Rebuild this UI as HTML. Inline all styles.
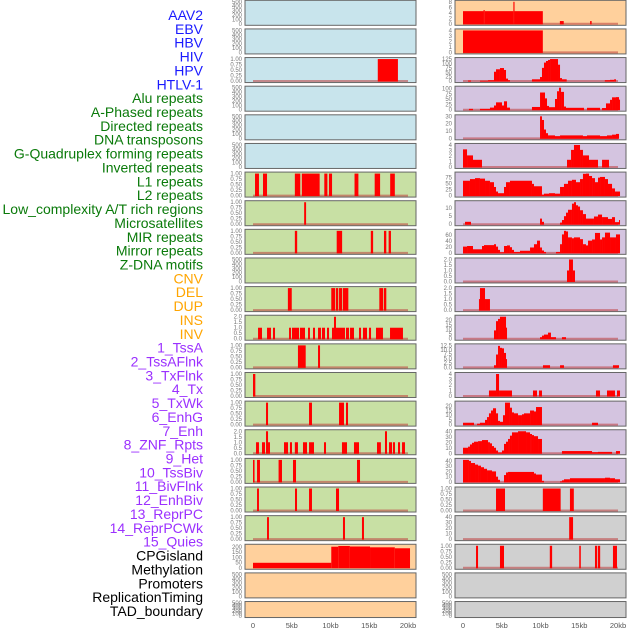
<!DOCTYPE html>
<html><head><meta charset="utf-8"><style>
html,body{margin:0;padding:0;background:#fff;}
svg{display:block;font-family:"Liberation Sans",sans-serif;}
</style></head><body>
<svg id="chart" width="630" height="630" viewBox="0 0 630 630" xmlns="http://www.w3.org/2000/svg">
<g id="labels"></g>
<g id="panels"></g>
<g id="xaxes"></g>
</svg>
<script>
const trackLabels = ["AAV2","EBV","HBV","HIV","HPV","HTLV-1","Alu repeats","A-Phased repeats","Directed repeats","DNA transposons","G-Quadruplex forming repeats","Inverted repeats","L1 repeats","L2 repeats","Low_complexity A/T rich regions","Microsatellites","MIR repeats","Mirror repeats","Z-DNA motifs","CNV","DEL","DUP","INS","INV","1_TssA","2_TssAFlnk","3_TxFlnk","4_Tx","5_TxWk","6_EnhG","7_Enh","8_ZNF_Rpts","9_Het","10_TssBiv","11_BivFlnk","12_EnhBiv","13_ReprPC","14_ReprPCWk","15_Quies","CPGisland","Methylation","Promoters","ReplicationTiming","TAD_boundary"];
const labelGroups = [6,13,5,15,5];
const groupColors = ["#1a1aff","#0a7a0a","#ffa500","#9b30ff","#000000"];
const xTickValues = [0,5,10,15,20];
const xTickLabels = ["0","5kb","10kb","15kb","20kb"];

const T01 = ["0.00","0.25","0.50","0.75","1.00"];
const T02 = ["0.0","0.5","1.0","1.5","2.0"];
const TE = ["0","100","200","300","400","500"];
const T04 = ["0","1","2","3","4"];
const T040 = ["0","10","20","30","40"];
const T020 = ["0","5","10","15","20"];

// left column: [ticks, ymax, background, steps ([startKb, value] until next start)]
const leftTicks = [TE,TE,T01,TE,TE,TE,T01,T01,T01,TE,T01,T02,T01,T01,T01,T02,T01,T01,T01,["0","50","100","150","200"],TE,TE];
const leftMax = [500,500,1,500,500,500,1,1,1,500,1,2,1,1,1,2,1,1,1,212,500,500];
const leftData = [
 null,null,
 [[16.1,1],[18.7,0]],
 null,null,null,
 [[0.26,1],[0.77,0],[1.29,1],[1.81,0],[5.4,1],[6.1,0],[6.3,1],[8.6,0],[9.2,1],[9.6,0],[9.8,1],[10.2,0],[13.1,1],[13.6,0],[15.7,1],[16.4,0],[17.7,1],[18.3,0]],
 [[6.6,1],[6.85,0]],
 [[5.4,1],[5.7,0],[10.8,1],[11.5,0],[15.2,1],[15.5,0],[16.9,1],[17.2,0],[17.5,1],[17.8,0]],
 null,
 [[4.5,1],[5.0,0],[10.1,1],[10.6,0],[10.7,1],[11.0,0],[11.1,1],[11.5,0],[11.6,1],[12.3,0],[16.3,1],[16.8,0],[16.9,1],[17.2,0]],
 [[0.65,1],[1.16,0],[1.81,1],[2.32,0],[2.58,1],[2.84,0],[4.65,1],[4.9,0],[5.03,1],[5.94,0],[6.06,1],[6.71,0],[7.1,1],[7.35,0],[7.74,1],[8.0,0],[8.39,1],[8.77,0],[8.9,1],[9.29,0],[9.55,1],[9.81,0],[10.19,1],[10.45,2],[10.71,1],[11.87,0],[12.0,1],[12.39,0],[12.52,1],[13.03,0],[13.68,1],[13.94,0],[14.19,1],[14.71,0],[14.97,1],[15.23,0],[15.87,1],[16.77,0],[17.68,1],[19.35,0]],
 [[5.8,1],[6.8,0],[8.39,1],[8.65,0]],
 [[0,1],[0.3,0]],
 [[1.68,1],[1.94,0],[7.23,1],[7.61,0],[11.1,1],[11.74,0],[12.0,1],[12.26,0]],
 [[0.39,1],[0.77,0],[1.16,1],[1.55,0],[1.68,2],[1.94,1],[2.19,0],[4.0,1],[4.52,0],[4.77,1],[5.03,0],[5.4,1],[5.8,0],[6.45,1],[6.97,0],[7.23,1],[7.87,0],[9.16,1],[9.42,0],[11.48,1],[12.13,0],[13.03,1],[13.68,0],[16.0,1],[16.5,0],[17.03,2],[17.29,0],[17.55,1],[17.94,0],[18.06,1],[18.32,0],[18.71,1],[18.97,0],[19.23,1],[19.61,0]],
 [[0,1],[0.2,0],[0.52,1],[0.9,0],[3.3,1],[3.74,0],[5.16,1],[5.55,0],[13.42,1],[13.81,0]],
 [[0.52,1],[0.77,0],[5.42,1],[5.68,0],[7.23,1],[7.61,0],[10.71,1],[11.1,0]],
 [[1.81,1],[2.06,0],[11.61,1],[11.87,0],[14.06,1],[14.32,0]],
 [[0,48],[10.1,203],[11.0,210],[12.5,205],[15.1,197],[18.3,188],[20.26,0]],
 null,null
];
const rightTicks = [["0","2","4","6","8"],T04,["0","25","50","75","100","125"],["0","25","50","75","100"],["0","10","20","30"],T04,["0","25","50","75"],["0","5","10"],["0","20","40","60"],T02,T02,T020,["0.0","2.5","5.0","7.5","10.0","12.5"],T04,T020,T040,T040,T01,T040,T01,TE,TE];
const rightMax = [8,4,125,105,30,4,92,13.7,74,2,2,23.8,12.5,4,23.4,40,42,1,40,1,500,500];
const rightData = [
 [[0,4.6],[2.65,5],[2.8,4.6],[6.5,8],[6.65,4.6],[10.3,0],[12.5,1],[13.0,0],[16.4,1],[16.6,0]],
 [[0,4],[10.3,0]],
 [[0.65,3],[1.03,0],[2.19,2],[3.23,5],[4.0,53],[4.26,67],[4.77,74],[5.29,63],[5.55,14],[5.81,5],[6.06,0],[8.9,10],[9.94,23],[10.19,75],[10.45,105],[10.71,114],[10.97,120],[11.23,125],[12.26,93],[12.52,17],[12.77,10],[13.38,0],[18.3,5],[18.97,7],[19.5,10],[19.74,0]],
 [[0.77,4],[1.29,0],[2.19,4],[3.48,10],[4.0,20],[4.26,35],[5.03,20],[5.29,40],[5.68,10],[6.06,0],[8.9,13],[9.94,82],[10.58,54],[10.84,18],[11.1,12],[11.87,51],[12.13,88],[12.39,105],[12.65,85],[13.03,15],[13.29,9],[15.61,0],[16.0,9],[17.68,0],[17.94,8],[18.45,30],[18.97,47],[19.23,59],[19.74,60],[20.13,48],[20.26,0]],
 [[9.94,30],[10.19,25],[10.45,12],[10.71,7],[10.97,4],[11.87,3],[12.52,4],[15.48,3],[16.0,4],[17.68,3],[18.58,4],[19.23,5],[19.74,6],[20.13,0]],
 [[0,3.2],[0.52,2.1],[1.29,1.3],[2.45,0],[13.42,1.3],[13.94,3.1],[14.32,4],[15.1,3.1],[15.48,2.1],[16.26,1.3],[17.42,0],[17.94,1.3],[18.84,0]],
 [[0,62],[0.9,69],[1.55,73],[2.19,71],[2.84,62],[3.48,56],[4.0,36],[4.26,17],[4.52,10],[5.29,36],[5.55,56],[6.06,62],[8.9,49],[9.16,39],[10.19,4],[10.45,8],[11.1,10],[11.87,8],[12.52,36],[13.03,49],[13.55,62],[14.06,66],[14.58,56],[15.1,69],[15.48,91],[15.87,92],[16.26,82],[16.65,73],[17.03,56],[17.42,75],[17.68,78],[18.32,69],[18.71,49],[19.23,30],[19.61,17],[20.26,0]],
 [[0.26,1.5],[1.03,0],[9.94,3.5],[10.19,1.5],[10.45,0],[12.52,1],[12.77,2.6],[13.03,5],[13.29,7.2],[13.55,9],[14.06,12.8],[14.32,13.7],[14.58,11.8],[14.84,11],[15.1,8.7],[15.48,6.3],[15.87,3.5],[16.9,4.8],[17.42,6],[17.94,4.4],[18.71,3.3],[19.23,4.4],[19.61,1.3],[20.13,2.6],[20.26,0]],
 [[0,21],[0.52,23],[1.29,12],[2.45,23],[2.71,26],[4.0,29],[4.26,21],[4.52,10],[4.77,2],[5.29,23],[5.68,25],[6.06,19],[6.32,10],[6.58,3],[7.35,7],[8.65,18],[9.16,29],[9.55,41],[9.94,18],[10.19,8],[10.45,3],[10.71,0],[12.0,3],[12.52,29],[12.77,62],[13.03,74],[13.29,72],[13.55,52],[14.06,49],[14.32,52],[15.1,46],[15.48,29],[15.87,25],[16.13,41],[16.65,45],[17.03,67],[17.68,45],[17.94,52],[18.32,68],[18.97,52],[19.74,62],[20.26,0]],
 [[13.42,1],[13.68,2],[14.19,1],[14.45,0]],
 [[2.06,1],[2.19,2],[2.84,1],[3.48,0]],
 [[4.0,9],[4.26,19],[4.52,21.4],[4.77,23.8],[5.55,12],[5.68,0],[9.94,1.7],[10.19,3.4],[10.45,4.5],[10.97,6.6],[11.35,1.7],[12.0,0],[12.77,1.7],[13.29,0]],
 [[4.0,1.2],[4.26,7.3],[4.52,12.2],[4.77,11.1],[5.03,10.8],[5.29,8.2],[5.55,4.7],[5.68,0],[10.32,1.2],[11.23,0],[12.52,1.2],[13.03,0],[19.35,1.2],[20.13,0]],
 [[3.35,1],[4.26,4],[4.65,1],[6.32,0],[9.03,1],[9.55,0],[9.81,1],[10.19,0],[17.16,1],[17.68,0],[18.58,1],[19.61,0],[19.87,1],[20.26,0]],
 [[0,2],[1.42,0],[1.81,1],[2.19,2],[2.84,5],[3.1,8],[3.35,12],[3.61,15],[3.87,17.4],[4.26,12],[4.52,4],[4.77,3],[5.16,10],[5.42,23.4],[6.06,18],[6.32,13],[6.58,12],[7.1,10],[7.61,11],[7.87,12],[8.65,15],[9.16,14],[9.42,18.7],[10.19,0],[16.65,2],[17.42,0]],
 [[0,10],[0.65,12],[0.9,16],[1.16,19],[1.42,21],[1.94,22],[2.45,24],[3.23,20],[3.48,18],[3.74,13],[4.0,10],[4.26,5],[4.52,1.5],[5.03,5],[5.29,17],[5.55,21],[5.81,26],[6.06,32],[6.32,38],[7.1,40],[8.13,38],[8.65,35],[8.9,33],[9.16,31],[9.68,26],[10.19,0],[12.77,4],[16.65,2],[17.42,2.5],[19.23,0],[19.74,4],[20.26,0]],
 [[0,42],[0.77,40],[1.03,36],[1.55,33],[1.94,31],[2.32,28],[2.71,25],[3.1,22],[3.74,20],[4.26,10],[4.52,4],[4.77,0],[5.29,13],[5.55,18],[5.81,19],[9.16,16],[9.42,14],[10.19,2],[10.45,0],[12.52,1],[12.77,3],[13.03,5],[13.8,7],[18.32,8],[18.97,7],[19.61,5],[20.26,0]],
 [[4.26,1],[5.42,0],[10.3,1],[12.6,0],[13.8,1],[14.3,0]],
 [[13.7,40],[14.2,0]],
 [[1.68,1],[1.94,0],[4.77,1],[5.29,0],[11.2,1],[11.5,0],[15.0,1],[15.2,0],[17.03,1],[17.3,0],[17.4,1],[17.7,0],[19.35,1],[19.87,0]],
 null,null
];

const NS = "http://www.w3.org/2000/svg";
function mk(tag, attrs, parent){ const e=document.createElementNS(NS,tag); for(const k in attrs) e.setAttribute(k,attrs[k]); parent.appendChild(e); return e; }

// labels
const lg = document.getElementById('labels');
let gi=0, cnt=0;
trackLabels.forEach((t,i)=>{
  while(cnt>=labelGroups[gi]){cnt=0;gi++;}
  cnt++;
  const el = mk('text',{x:203,y:15+13.86*i+5,'text-anchor':'end','font-size':14,fill:groupColors[gi]},lg);
  el.textContent=t;
  
  
});

const pg = document.getElementById('panels');
const colX = [245,455];
const PW = 171;
function xScale(col,kb){ return colX[col]+8+kb*7.75; }
function rowTop(r){ return 0.3+28.63*r; }
function rowH(r){ return r===21?16:25; }
const leftBg = r => r<6?"#c8e4ec":(r<19?"#c8e0a4":"#ffd09c");
const rightBg = r => r<2?"#ffd09c":(r<17?"#d4c4e0":"#d0d0d0");

function drawPanel(col,r,ticks,ymax,data,bg){
  const top=rowTop(r), h=rowH(r), x=colX[col];
  const g = mk('g',{},pg);
  
  
  mk('rect',{x:x,y:top,width:PW,height:h,fill:bg,stroke:'#666','stroke-width':1},g);
  const y0 = top+h-1.5, span = h-3;
  const yScale = v => y0 - v/ymax*span;
  ticks.forEach(t=>{
    const v=parseFloat(t);
    const tl = mk('text',{x:x-3,y:yScale(v)+2,'text-anchor':'end','font-size':6,fill:'#777'},g);
    tl.textContent=t;
    
    
  });
  if(!data) return;
  if(ymax<=200 || r!==19 || col!==0){
    const bl = mk('line',{x1:xScale(col,0),x2:xScale(col,20),y1:y0,y2:y0,stroke:'rgba(190,60,60,0.55)','stroke-width':2},g);
    
    
  }
  for(let i=0;i<data.length-1;i++){
    const s=data[i][0], v=data[i][1], e=data[i+1][0];
    if(v<=0) continue;
    const bx=xScale(col,s), bw=Math.max(xScale(col,e)-bx,1);
    const by=Math.max(yScale(v),top+0.5);
    const bar = mk('rect',{x:bx,y:by,width:bw,height:y0-by+0.5,fill:'#ff0000'},g);
    
    
  }
}
for(let r=0;r<22;r++){
  drawPanel(0,r,leftTicks[r],leftMax[r],leftData[r],leftBg(r));
  drawPanel(1,r,rightTicks[r],rightMax[r],rightData[r],rightBg(r));
}
const xg = document.getElementById('xaxes');
[0,1].forEach(col=>{
  xTickValues.forEach((v,i)=>{
    const t = mk('text',{x:xScale(col,v),y:628,'text-anchor':'middle','font-size':7.5,fill:'#555'},xg);
    t.textContent=xTickLabels[i];
    
    
  });
});
</script>
</body></html>
